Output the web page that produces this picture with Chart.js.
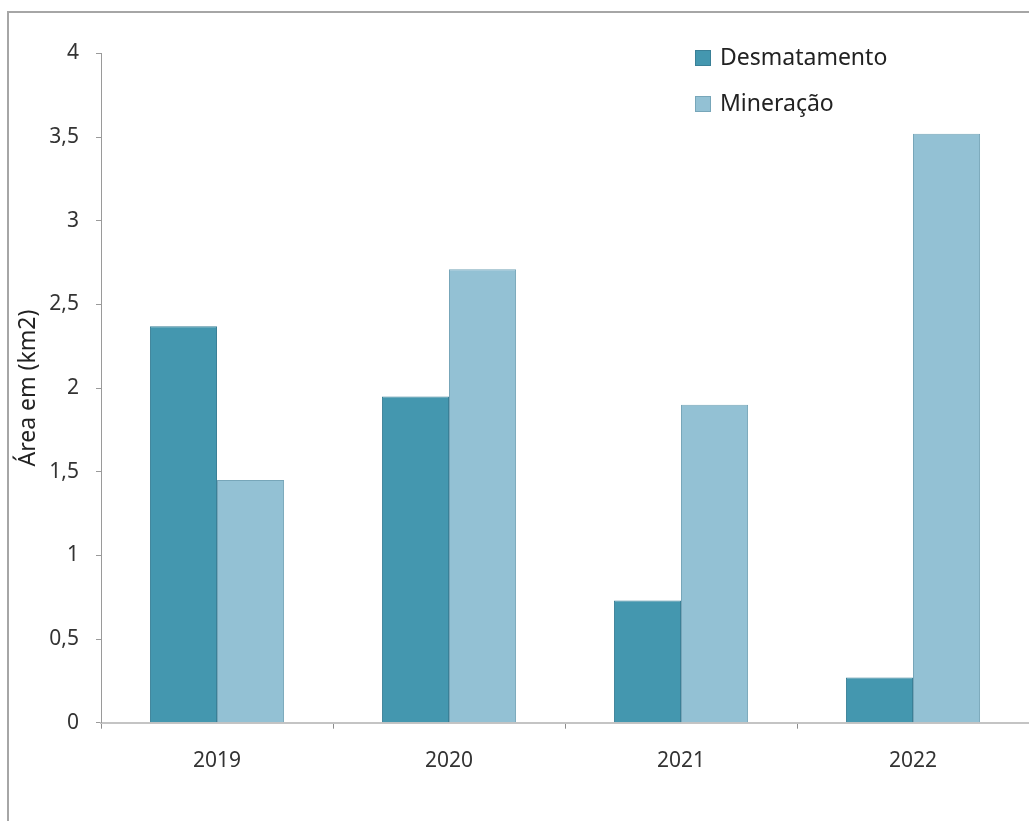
<!DOCTYPE html>
<html lang="pt-BR">
<head>
<meta charset="utf-8">
<title>Área em (km2)</title>
<script src="https://cdn.jsdelivr.net/npm/chart.js@4.4.0/dist/chart.umd.min.js"></script>
<style>
  html, body { margin: 0; padding: 0; background: #fff; overflow: hidden; }
  #wrap { position: relative; width: 1029px; height: 821px; }
  #frame {
    position: absolute; left: 7px; top: 11px; width: 1040px; height: 830px;
    border-left: 2px solid #a6a6a6; border-top: 2px solid #a6a6a6;
    pointer-events: none;
  }
  canvas { position: absolute; left: 0; top: 0; }
</style>
</head>
<body>
<div id="wrap">
  <div id="frame"></div>
  <canvas id="areaChart" width="1029" height="821"></canvas>
</div>
<script>
// Área anual (km2) por tipo de alteração
const years = ['2019', '2020', '2021', '2022'];
const desmatamento = [2.37, 1.95, 0.73, 0.27];
const mineracao = [1.45, 2.71, 1.90, 3.52];
const yTicks = [0, 0.5, 1, 1.5, 2, 2.5, 3, 3.5, 4];

const FONT = "'Noto Sans', 'Open Sans', sans-serif";

// legend drawn as a vertical list in the upper right of the plot
const stackedLegend = {
  id: 'stackedLegend',
  afterDraw(chart) {
    const ctx = chart.ctx;
    ctx.save();
    ctx.font = `23px ${FONT}`;
    ctx.textBaseline = 'middle';
    chart.data.datasets.forEach((ds, i) => {
      const y = 58 + i * 46;
      ctx.fillStyle = ds.backgroundColor;
      ctx.fillRect(695, y - 8, 16, 16);
      ctx.strokeStyle = ds.borderColor;
      ctx.lineWidth = 1;
      ctx.strokeRect(695.5, y - 7.5, 15, 15);
      ctx.fillStyle = '#222';
      ctx.fillText(ds.label, 720, y);
    });
    ctx.restore();
  }
};

new Chart(document.getElementById('areaChart'), {
  type: 'bar',
  data: {
    labels: years,
    datasets: [
      {
        label: 'Desmatamento',
        data: desmatamento,
        backgroundColor: '#4497af',
        borderColor: '#3a8097',
        borderWidth: 1,
        categoryPercentage: 0.578,
        barPercentage: 1.0
      },
      {
        label: 'Mineração',
        data: mineracao,
        backgroundColor: '#93c1d4',
        borderColor: '#77a6b9',
        borderWidth: 1,
        categoryPercentage: 0.578,
        barPercentage: 1.0
      }
    ]
  },
  options: {
    responsive: false,
    animation: false,
    layout: { padding: { top: 53.5, right: 0, left: 0, bottom: 0 } },
    plugins: {
      legend: { display: false },
      tooltip: { enabled: false }
    },
    scales: {
      x: {
        offset: true,
        grid: {
          offset: true,
          drawOnChartArea: false,
          tickLength: 6,
          color: '#8c8c8c'
        },
        border: { color: '#c4c4c4', width: 2 },
        ticks: {
          color: '#333',
          padding: 20,
          font: { family: FONT, size: 21 }
        },
        afterFit: (s) => { s.height = 98.3; }
      },
      y: {
        min: 0,
        max: 4,
        afterBuildTicks: (s) => { s.ticks = yTicks.map(v => ({ value: v })); },
        grid: {
          drawOnChartArea: false,
          tickLength: 5,
          color: '#9a9a9a'
        },
        border: { color: '#9a9a9a', width: 1 },
        ticks: {
          color: '#333',
          padding: 17,
          font: { family: FONT, size: 21 },
          callback: (v) => String(v).replace('.', ',')
        },
        title: {
          display: true,
          text: 'Área em (km2)',
          color: '#222',
          padding: { top: 15, bottom: 0 },
          font: { family: FONT, size: 23 }
        },
        afterFit: (s) => { s.width = 101; }
      }
    }
  },
  plugins: [stackedLegend]
});
</script>
</body>
</html>
